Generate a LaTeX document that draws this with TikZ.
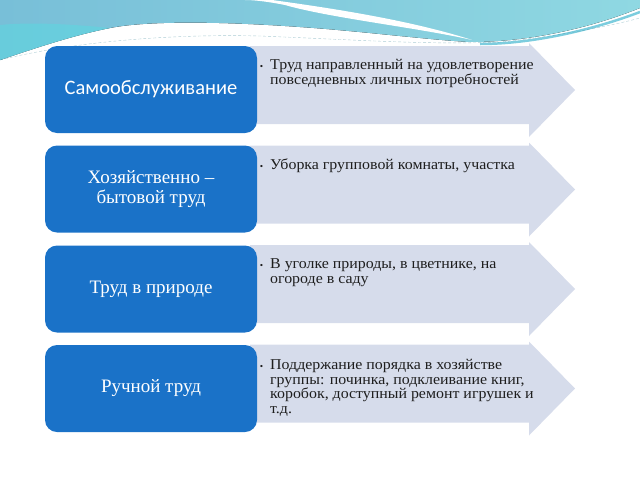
\documentclass[tikz,border=0pt]{standalone}
\usepackage{fontspec}
\setmainfont{Liberation Serif}
\newfontfamily\titlefont{Carlito}
\newfontfamily\detailfont[FakeStretch=1.06]{Liberation Serif}
\usetikzlibrary{positioning}
\definecolor{boxblue}{HTML}{1A72C8}
\definecolor{arrowfill}{HTML}{D6DCEB}
\definecolor{wavelight}{HTML}{8FD8E2}
\definecolor{wavedark}{HTML}{78BFD8}
\definecolor{wavecyan}{HTML}{5ED6E0}
\definecolor{waveedge}{HTML}{45B8D0}
\definecolor{textdark}{HTML}{1E1E1E}
\newcommand{\itembullet}{\llap{\fontsize{9}{9}\selectfont\textbullet\hspace{7pt}}}
\tikzset {
    x=1pt, y=-1pt,
    category/.style={fill=boxblue, rounded corners=12pt, minimum width=212pt,
        minimum height=87pt, text=white, align=center, inner sep=2pt,
        font=\fontsize{19}{20.5}\selectfont},
    detail/.style={anchor=north west, align=left, inner sep=0pt,
        text=textdark, font=\detailfont\fontsize{15}{14.6}\selectfont}
}

\begin{document}
\begin{tikzpicture}
    \useasboundingbox (0,0) rectangle (640,480);

    % background wave
    \fill[left color=wavedark, right color=wavelight]
        (0,0) -- (640,0) -- (640,8) .. controls (590,28) and (530,42) .. (470,42)
        .. controls (430,40) and (360,31) .. (300,27)
        .. controls (230,22) and (150,20) .. (110,28)
        .. controls (70,36) and (30,50) .. (0,60) -- cycle;
    \fill[wavecyan, opacity=0.6]
        (0,60) .. controls (30,50) and (70,36) .. (110,28)
        .. controls (70,24) and (30,22) .. (0,25) -- cycle;
    \fill[white]
        (272,0) .. controls (330,8) and (410,20) .. (472,40)
        .. controls (420,28) and (330,18) .. (285,5)
        .. controls (270,2) and (255,0) .. (245,0) -- cycle;
    \draw[waveedge, line width=2.5pt, opacity=0.7]
        (640,12) .. controls (590,31) and (530,44) .. (480,44);
    \draw[waveedge!70!black, opacity=0.4, dash pattern=on 3pt off 2pt]
        (0,60) .. controls (80,40) and (180,34) .. (260,36)
        .. controls (360,40) and (430,45) .. (500,42)
        .. controls (560,36) and (610,26) .. (640,18);

    % arrows behind the boxes
    \foreach \y in {0,99.5,199,298.5}
        \fill[arrowfill] (250,46+\y) -- (529,46+\y) -- (529,43+\y) -- (575,90+\y)
            -- (529,137+\y) -- (529,124+\y) -- (250,124+\y) -- cycle;

    % categories
    \node[category, font=\titlefont\fontsize{20.5}{22}\selectfont] (self) at (151,89.5) {Самообслуживание};
    \node[category] (house) at (151,189) {Хозяйственно –\\бытовой труд};
    \node[category] (nature) at (151,289) {Труд в природе};
    \node[category] (manual) at (151,388.5) {Ручной труд};

    % details
    \node[detail] (selfinfo) at (270,59.5) {\itembullet Труд направленный на удовлетворение\\повседневных личных потребностей};
    \node[detail] (houseinfo) at (270,159) {\itembullet Уборка групповой комнаты, участка};
    \node[detail] (natureinfo) at (270,258.5) {\itembullet В уголке природы, в цветнике, на\\огороде в саду};
    \node[detail] (manualinfo) at (270,359) {\itembullet Поддержание порядка в хозяйстве\\группы: починка, подклеивание книг,\\коробок, доступный ремонт игрушек и\\т.д.};
\end{tikzpicture}
\end{document}
